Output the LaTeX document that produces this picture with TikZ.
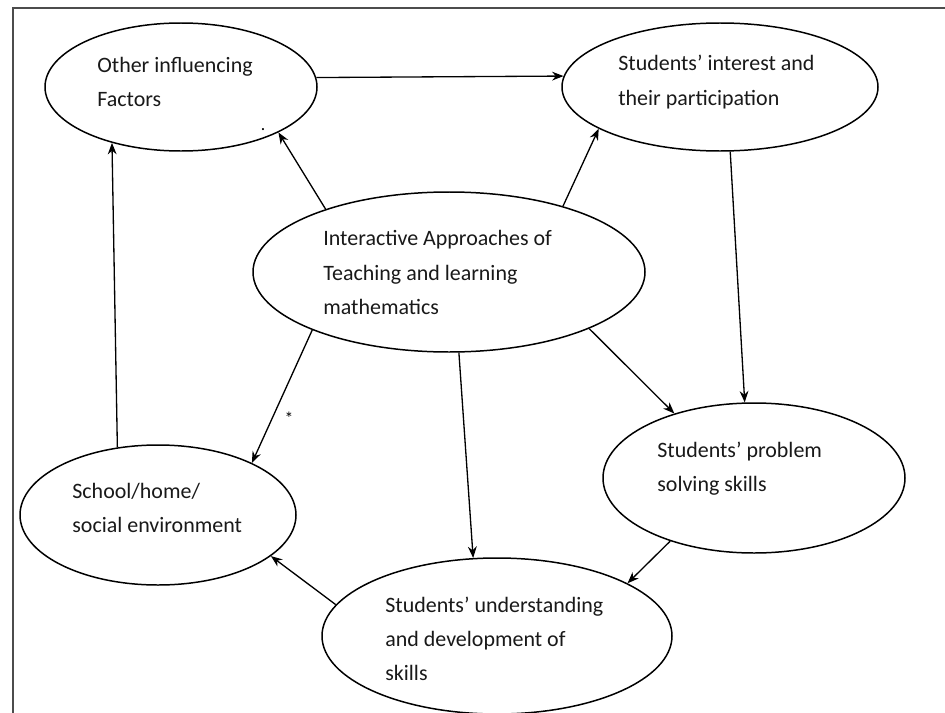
\documentclass[tikz,border=0pt]{standalone}
\usepackage{fontspec}
\setmainfont{Carlito}
\usetikzlibrary{shapes.geometric, arrows.meta}

\begin{document}
\begin{tikzpicture}[
  bubble/.style={ellipse, draw, line width=0.85pt, inner sep=0pt},
  txt/.style={anchor=west, align=left, inner sep=0pt, text=black!90,
              font=\fontsize{12.5}{19.4}\selectfont},
  arrow/.style={-{Stealth[length=6.5pt, width=5pt]}, line width=0.75pt}
]
\useasboundingbox (0,0) rectangle (18.9,-14.26);

% Frame (top and left only)
\draw[line width=0.9pt, black!70] (18.9,-0.16) -- (0.26,-0.16) -- (0.26,-14.26);

% Ellipses
\node[bubble, minimum width=5.44cm, minimum height=2.56cm] at (3.62,-1.74)  (other)   {};
\node[bubble, minimum width=6.32cm, minimum height=2.56cm] at (14.40,-1.74) (interest){};
\node[bubble, minimum width=7.84cm, minimum height=3.20cm] at (8.98,-5.44)  (approach){};
\node[bubble, minimum width=5.52cm, minimum height=2.80cm] at (3.16,-10.30) (environ) {};
\node[bubble, minimum width=6.04cm, minimum height=3.00cm] at (15.08,-9.56) (problem) {};
\node[bubble, minimum width=7.00cm, minimum height=3.12cm] at (9.94,-12.72) (underst) {};

% Texts
\node[txt] at (1.94,-1.64)   (other-t)    {Other influencing\\Factors};
\node[txt] at (12.36,-1.64)  (interest-t) {Students’ interest and\\their participation};
\node[txt] at (6.46,-5.45)   (approach-t) {Interactive Approaches of\\Teaching and learning\\mathematics};
\node[txt] at (1.44,-10.15)  (environ-t)  {School/home/\\social environment};
\node[txt] at (13.14,-9.37)  (problem-t)  {Students’ problem\\solving skills};
\node[txt] at (7.70,-12.78)  (underst-t)  {Students’ understanding\\and development of\\skills};

% Stray marks
\node[inner sep=0pt] at (5.78,-8.36) (star) {*};
\node[inner sep=0pt] at (5.26,-2.60) (dot)  {.};

% Arrows
\draw[arrow] (other.4)       -- (interest.176);
\draw[arrow] (approach.153)  -- (other.335.6);
\draw[arrow] (approach.30.7) -- (interest.199);
\draw[arrow] (interest.279.8)-- (problem.97.6);
\draw[arrow] (approach.338.1)-- (problem.141.2);
\draw[arrow] (approach.277.7)-- (underst.107.1);
\draw[arrow] (approach.203)  -- (environ.29);
\draw[arrow] (environ.121.3) -- (other.219.5);
\draw[arrow] (problem.217.3) -- (underst.22.1);
\draw[arrow] (underst.169.2) -- (environ.340.6);
\end{tikzpicture}
\end{document}
